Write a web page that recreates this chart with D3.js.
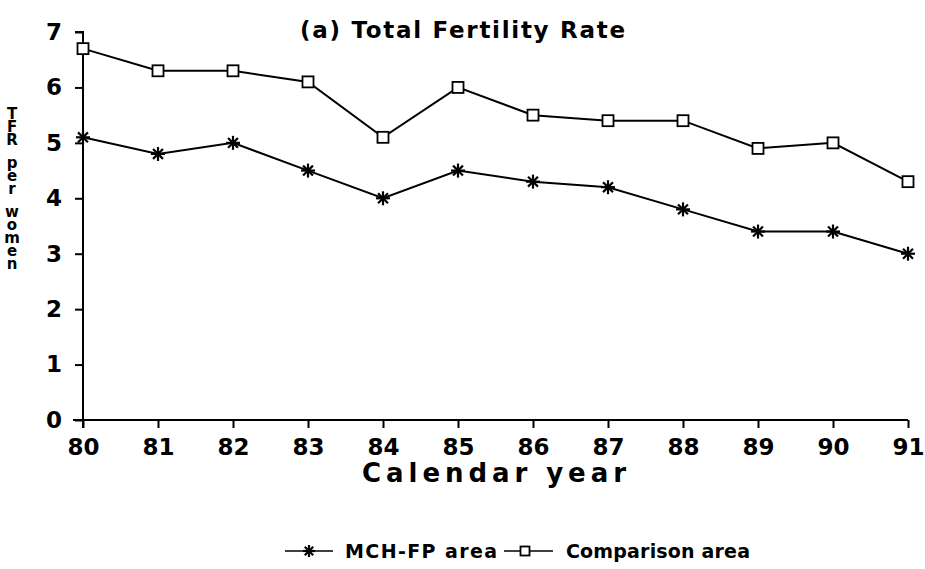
<!DOCTYPE html>
<html>
<head>
<meta charset="utf-8">
<script src="https://cdn.jsdelivr.net/npm/d3@7"></script>
<style>
    body { margin: 0; background: #fff; }
    svg { display: block; font-family: "DejaVu Sans", "Liberation Sans", Arial, sans-serif; }
    .axis path, .axis line { stroke: #000; stroke-width: 2; }
    .line { fill: none; stroke: #000; stroke-width: 2; }
    .ylabel { writing-mode: vertical-lr; text-orientation: upright; }
</style>
</head>
<body>
<div id="chart"></div>
<script>
(function (d3) {
    'use strict';

    var years = [80, 81, 82, 83, 84, 85, 86, 87, 88, 89, 90, 91];
    var mchfp = [5.1, 4.8, 5.0, 4.5, 4.0, 4.5, 4.3, 4.2, 3.8, 3.4, 3.4, 3.0];
    var comparison = [6.7, 6.3, 6.3, 6.1, 5.1, 6.0, 5.5, 5.4, 5.4, 4.9, 5.0, 4.3];
    var yTicks = [0, 1, 2, 3, 4, 5, 6, 7];

    var width = 925, height = 569;
    var margin = {top: 32, right: 17, bottom: 149, left: 83};

    var svg = d3.select('#chart').append('svg')
        .attr('width', width)
        .attr('height', height)
    ;

    var x = d3.scaleLinear().domain([80, 91]).range([margin.left, width - margin.right]);
    var y = d3.scaleLinear().domain([0, 7]).range([height - margin.bottom, margin.top]);

    function tickText(g) {
        g.attr('font-family', null);
        g.selectAll('.tick text')
            .attr('font-size', 23)
            .attr('font-weight', 'bold')
            .attr('fill', '#000')
        ;
    }

    // Axes.
    svg.append('g')
        .attr('class', 'axis')
        .attr('transform', 'translate(0,' + y(0) + ')')
        .call(d3.axisBottom(x).tickValues(years).tickSize(8).tickPadding(11).tickFormat(d3.format('d')))
        .call(function (g) { g.select('.domain').attr('d', 'M' + (x(80) - 10) + ',0H' + x(91)); })
        .call(tickText)
    ;

    svg.append('g')
        .attr('class', 'axis')
        .attr('transform', 'translate(' + x(80) + ',0)')
        .call(d3.axisLeft(y).tickValues(yTicks).tickSize(8).tickPadding(13).tickFormat(d3.format('d')))
        .call(function (g) { g.select('.domain').attr('d', 'M-8,' + y(7) + 'H0V' + (y(0) + 8)); })
        .call(tickText)
    ;

    // Title and axis labels.
    svg.append('text')
        .attr('x', 300).attr('y', 38)
        .attr('font-size', 23).attr('font-weight', 'bold')
        .attr('textLength', 325).attr('lengthAdjust', 'spacing')
        .text('(a) Total Fertility Rate')
    ;

    svg.append('text')
        .attr('x', 362).attr('y', 482)
        .attr('font-size', 26).attr('font-weight', 'bold')
        .attr('textLength', 264).attr('lengthAdjust', 'spacing')
        .text('Calendar year')
    ;

    // Vertical stacked label, letters upright one below another.
    svg.append('text')
        .attr('class', 'ylabel')
        .attr('x', 12).attr('y', 105)
        .attr('font-size', 15).attr('font-weight', 'bold')
        .attr('letter-spacing', -5)
        .attr('word-spacing', -3)
        .text('TFR per women')
    ;

    // Lines and markers.
    var line = d3.line()
        .x(function (d, i) { return x(years[i]); })
        .y(function (d) { return y(d); })
    ;

    svg.append('path').datum(mchfp).attr('class', 'line').attr('d', line);
    svg.append('path').datum(comparison).attr('class', 'line').attr('d', line);

    function asterisk(g, cx, cy, r) {
        for (var k = 0; k < 4; k++) {
            var a = k * Math.PI / 4;
            g.append('line')
                .attr('x1', cx - r * Math.cos(a)).attr('y1', cy - r * Math.sin(a))
                .attr('x2', cx + r * Math.cos(a)).attr('y2', cy + r * Math.sin(a))
                .attr('stroke', '#000').attr('stroke-width', 2.2)
            ;
        }
    }

    function square(g, cx, cy, s) {
        g.append('rect')
            .attr('x', cx - s / 2).attr('y', cy - s / 2)
            .attr('width', s).attr('height', s)
            .attr('fill', '#fff').attr('stroke', '#000').attr('stroke-width', 1.8)
        ;
    }

    var marks = svg.append('g');
    mchfp.forEach(function (v, i) { asterisk(marks, x(years[i]), y(v), 7); });
    comparison.forEach(function (v, i) { square(marks, x(years[i]), y(v), 11); });

    // Legend.
    var legend = svg.append('g');
    var ly = 551;
    legend.append('line').attr('x1', 285).attr('x2', 333).attr('y1', ly).attr('y2', ly)
        .attr('stroke', '#000').attr('stroke-width', 1.5);
    asterisk(legend, 309, ly, 6);
    legend.append('text').attr('x', 345).attr('y', ly + 7)
        .attr('font-size', 19).attr('font-weight', 'bold')
        .attr('textLength', 152).attr('lengthAdjust', 'spacing')
        .text('MCH-FP area');

    legend.append('line').attr('x1', 504).attr('x2', 553).attr('y1', ly).attr('y2', ly)
        .attr('stroke', '#000').attr('stroke-width', 1.5);
    square(legend, 525, ly, 9);
    legend.append('text').attr('x', 566).attr('y', ly + 7)
        .attr('font-size', 19).attr('font-weight', 'bold')
        .attr('textLength', 184).attr('lengthAdjust', 'spacing')
        .text('Comparison area');

})(d3);
</script>
</body>
</html>
